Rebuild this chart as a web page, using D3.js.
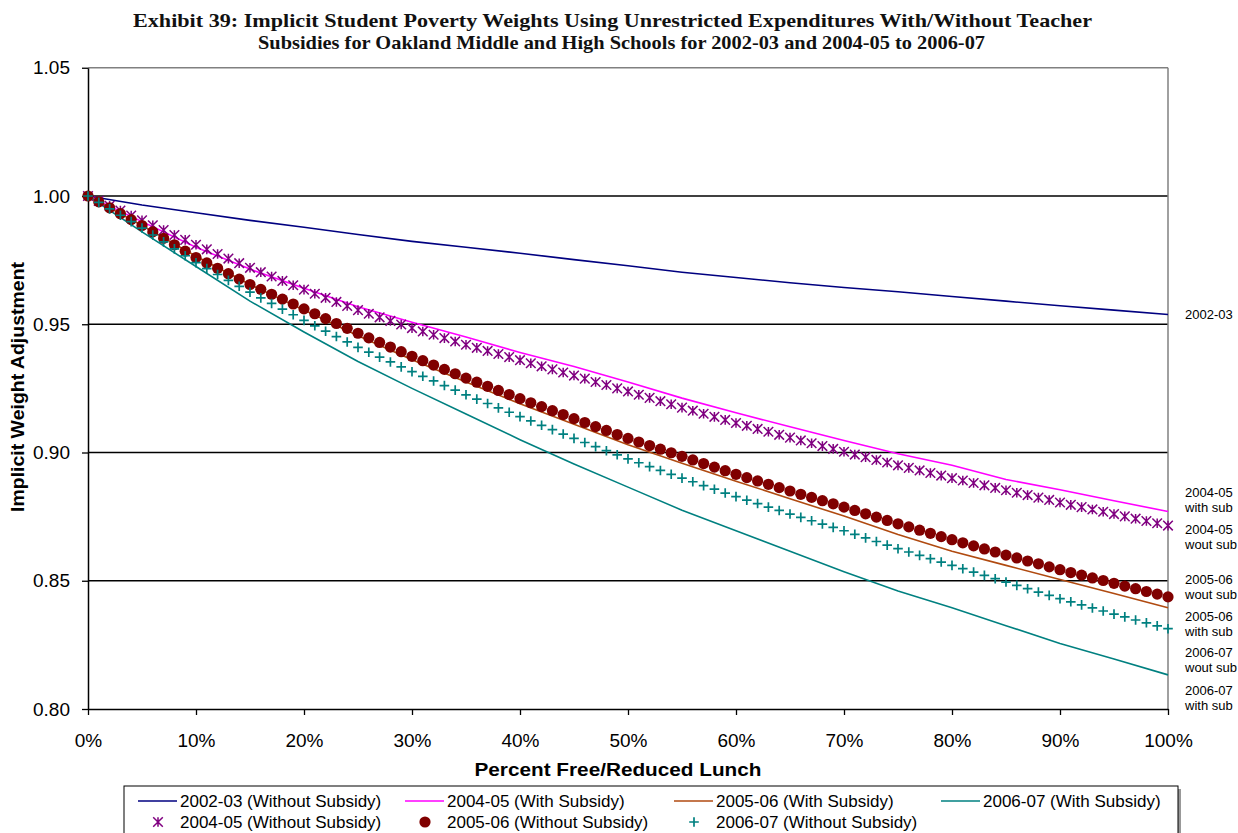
<!DOCTYPE html>
<html><head><meta charset="utf-8">
<script src="https://cdn.jsdelivr.net/npm/d3@7/dist/d3.min.js"></script>
<style>
body{margin:0;background:#fff;}
svg{display:block;font-family:"Liberation Sans",Arial,sans-serif;}
</style></head>
<body><svg id="c" width="1238" height="833"></svg>
<script>
// ---------- data ----------
const titleLines = [
  "Exhibit 39: Implicit Student Poverty Weights Using Unrestricted Expenditures With/Without Teacher",
  "Subsidies for Oakland Middle and High Schools for 2002-03 and 2004-05 to 2006-07"
];
const yTicks = [0.80, 0.85, 0.90, 0.95, 1.00, 1.05];
const xTicks = [0, 10, 20, 30, 40, 50, 60, 70, 80, 90, 100];
const pctLine = [0,5,10,15,20,25,30,35,40,45,50,55,60,65,70,75,80,85,90,95,100];
const pctMarker = d3.range(0, 101, 1);

const s0203 = [1.0000,0.9965,0.9935,0.9905,0.9878,0.9850,0.9823,0.9800,0.9777,0.9752,0.9728,0.9703,0.9682,0.9662,0.9643,0.9627,0.9608,0.9590,0.9572,0.9555,0.9538];
const s0405w = [1.0000,0.9900,0.9800,0.9715,0.9640,0.9568,0.9508,0.9450,0.9390,0.9335,0.9275,0.9212,0.9155,0.9100,0.9047,0.8995,0.8950,0.8895,0.8855,0.8812,0.8770];
const s0506w = [1.0000,0.9885,0.9765,0.9655,0.9555,0.9455,0.9362,0.9275,0.9190,0.9110,0.9030,0.8958,0.8888,0.8820,0.8752,0.8680,0.8615,0.8560,0.8505,0.8450,0.8395];
const s0607w = [1.0000,0.9860,0.9725,0.9590,0.9470,0.9355,0.9250,0.9150,0.9050,0.8955,0.8865,0.8775,0.8695,0.8615,0.8535,0.8460,0.8395,0.8325,0.8255,0.8195,0.8133];

const s0405wo = [1.0000,0.9981,0.9962,0.9943,0.9924,0.9905,0.9886,0.9867,0.9848,0.9829,0.9810,
 0.9792,0.9774,0.9756,0.9738,0.9720,0.9703,0.9686,0.9669,0.9652,0.9635,
 0.9619,0.9603,0.9587,0.9571,0.9555,0.9541,0.9527,0.9513,0.9499,0.9485,
 0.9472,0.9459,0.9446,0.9433,0.9420,0.9408,0.9396,0.9384,0.9372,0.9360,
 0.9348,0.9336,0.9324,0.9312,0.9300,0.9288,0.9275,0.9263,0.9250,0.9238,
 0.9225,0.9213,0.9200,0.9188,0.9175,0.9163,0.9151,0.9139,0.9127,0.9115,
 0.9104,0.9092,0.9081,0.9069,0.9058,0.9047,0.9036,0.9025,0.9014,0.9003,
 0.8992,0.8982,0.8971,0.8961,0.8950,0.8940,0.8930,0.8920,0.8910,0.8900,
 0.8891,0.8881,0.8872,0.8862,0.8853,0.8843,0.8834,0.8824,0.8815,0.8805,
 0.8796,0.8787,0.8778,0.8769,0.8760,0.8751,0.8742,0.8733,0.8724,0.8715];
const s0506wo = [1.0000,0.9977,0.9954,0.9931,0.9908,0.9885,0.9860,0.9835,0.9810,0.9785,0.9760,
 0.9739,0.9718,0.9697,0.9676,0.9655,0.9636,0.9617,0.9598,0.9579,0.9560,
 0.9541,0.9522,0.9503,0.9484,0.9465,0.9447,0.9429,0.9411,0.9393,0.9375,
 0.9358,0.9341,0.9324,0.9307,0.9290,0.9274,0.9258,0.9242,0.9226,0.9210,
 0.9194,0.9179,0.9163,0.9148,0.9132,0.9117,0.9101,0.9086,0.9070,0.9055,
 0.9041,0.9027,0.9013,0.8999,0.8985,0.8971,0.8957,0.8943,0.8929,0.8915,
 0.8902,0.8889,0.8876,0.8863,0.8850,0.8837,0.8825,0.8812,0.8800,0.8787,
 0.8774,0.8761,0.8748,0.8735,0.8722,0.8710,0.8697,0.8685,0.8672,0.8660,
 0.8648,0.8636,0.8624,0.8612,0.8600,0.8589,0.8577,0.8566,0.8554,0.8543,
 0.8532,0.8522,0.8511,0.8501,0.8490,0.8479,0.8469,0.8458,0.8448,0.8437];
const s0607wo = [1.0000,0.9975,0.9950,0.9925,0.9900,0.9875,0.9848,0.9821,0.9794,0.9767,0.9740,
 0.9717,0.9694,0.9671,0.9648,0.9625,0.9603,0.9581,0.9559,0.9537,0.9515,
 0.9494,0.9473,0.9452,0.9431,0.9410,0.9391,0.9372,0.9353,0.9334,0.9315,
 0.9297,0.9279,0.9261,0.9243,0.9225,0.9208,0.9191,0.9174,0.9157,0.9140,
 0.9123,0.9106,0.9089,0.9072,0.9055,0.9039,0.9023,0.9007,0.8991,0.8975,
 0.8960,0.8945,0.8930,0.8915,0.8900,0.8886,0.8871,0.8857,0.8842,0.8828,
 0.8814,0.8801,0.8787,0.8774,0.8760,0.8747,0.8734,0.8721,0.8708,0.8695,
 0.8681,0.8667,0.8653,0.8639,0.8625,0.8612,0.8599,0.8586,0.8573,0.8560,
 0.8547,0.8534,0.8521,0.8508,0.8495,0.8482,0.8469,0.8456,0.8443,0.8430,
 0.8418,0.8406,0.8394,0.8382,0.8370,0.8359,0.8347,0.8336,0.8324,0.8313];

const lineSeries = [
  {name:"2002-03 (Without Subsidy)", values:s0203, color:"#000080"},
  {name:"2004-05 (With Subsidy)", values:s0405w, color:"#FF00FF"},
  {name:"2005-06 (With Subsidy)", values:s0506w, color:"#B04A10"},
  {name:"2006-07 (With Subsidy)", values:s0607w, color:"#008080"}
];
const markerSeries = [
  {name:"2004-05 (Without Subsidy)", values:s0405wo, color:"#800080", shape:"star"},
  {name:"2005-06 (Without Subsidy)", values:s0506wo, color:"#800000", shape:"circle"},
  {name:"2006-07 (Without Subsidy)", values:s0607wo, color:"#008080", shape:"plus"}
];
const rightLabels = [
  {lines:["2002-03"], y:319},
  {lines:["2004-05","with sub"], y:497},
  {lines:["2004-05","wout sub"], y:534},
  {lines:["2005-06","wout sub"], y:584},
  {lines:["2005-06","with sub"], y:621},
  {lines:["2006-07","wout sub"], y:657},
  {lines:["2006-07","with sub"], y:695}
];

// ---------- layout ----------
const svg = d3.select("#c");
const L = 88, R = 1168, T = 67.75, B = 709;
const x = d3.scaleLinear().domain([0,100]).range([L,R]);
const y = d3.scaleLinear().domain([0.80,1.05]).range([B,T]);

// title
const titleW = [959, 727];
svg.append("g").selectAll("text").data(titleLines).join("text")
  .attr("x", (d,i)=>i===0?612.5:621.5).attr("y",(d,i)=>27+i*22)
  .attr("text-anchor","middle")
  .attr("font-family","'Liberation Serif','Times New Roman',serif")
  .attr("font-weight","bold").attr("font-size",19)
  .attr("textLength",(d,i)=>titleW[i]).attr("lengthAdjust","spacingAndGlyphs")
  .attr("fill","#111").text(d=>d);

// gridlines
svg.append("g").selectAll("line").data([0.85,0.90,0.95,1.00]).join("line")
  .attr("x1",L).attr("x2",R).attr("y1",d=>y(d)).attr("y2",d=>y(d))
  .attr("stroke","#000").attr("stroke-width",1.3);
// top & right border
svg.append("line").attr("x1",L).attr("x2",R).attr("y1",y(1.05)).attr("y2",y(1.05)).attr("stroke","#808080").attr("stroke-width",1.5);
svg.append("line").attr("x1",R).attr("x2",R).attr("y1",y(1.05)).attr("y2",B).attr("stroke","#808080").attr("stroke-width",1.5);

// axes
const yAxis = svg.append("g").attr("transform",`translate(${L},0)`)
  .call(d3.axisLeft(y).tickValues(yTicks).tickFormat(d3.format(".2f")).tickSize(6).tickSizeOuter(0).tickPadding(12));
const xAxis = svg.append("g").attr("transform",`translate(0,${B})`)
  .call(d3.axisBottom(x).tickValues(xTicks).tickFormat(d=>d+"%").tickSize(6).tickSizeOuter(0).tickPadding(19));
[yAxis,xAxis].forEach(g=>{
  g.select(".domain").attr("stroke","#000").attr("stroke-width",1.5);
  g.selectAll(".tick line").attr("stroke","#000").attr("stroke-width",1.3);
  g.selectAll(".tick text").attr("font-size",19).attr("fill","#000")
   .attr("font-family","'Liberation Sans',Arial,sans-serif");
});

// axis titles
svg.append("text").attr("x",618).attr("y",776).attr("text-anchor","middle")
  .attr("font-weight","bold").attr("font-size",19).attr("textLength",287).attr("lengthAdjust","spacingAndGlyphs")
  .text("Percent Free/Reduced Lunch");
svg.append("text").attr("transform",`translate(24,387) rotate(-90)`).attr("text-anchor","middle")
  .attr("font-weight","bold").attr("font-size",18.5).attr("textLength",250).attr("lengthAdjust","spacingAndGlyphs")
  .text("Implicit Weight Adjustment");

// lines
const lineGen = d3.line().x(d=>x(d[0])).y(d=>y(d[1]));
const gLines = svg.append("g");
lineSeries.forEach(s=>{
  gLines.append("path").datum(pctLine.map((p,i)=>[p,s.values[i]]))
    .attr("d",lineGen).attr("fill","none").attr("stroke",s.color).attr("stroke-width",1.6);
});

// markers
function drawMarker(g, shape, color, cx, cy, k){
  k = k||1;
  if(shape==="circle"){
    g.append("circle").attr("cx",cx).attr("cy",cy).attr("r",5.6*k).attr("fill",color);
  } else if(shape==="plus"){
    const h=4.8*k;
    g.append("path").attr("d",`M${cx-h},${cy}H${cx+h}M${cx},${cy-h}V${cy+h}`)
      .attr("stroke",color).attr("stroke-width",1.7).attr("fill","none");
  } else {
    const h=4.8*k;
    g.append("path").attr("d",`M${cx-h},${cy-h}L${cx+h},${cy+h}M${cx+h},${cy-h}L${cx-h},${cy+h}M${cx},${cy-h}V${cy+h}`)
      .attr("stroke",color).attr("stroke-width",1.5).attr("fill","none");
  }
}
markerSeries.forEach(s=>{
  const g = svg.append("g");
  pctMarker.forEach((p,i)=>drawMarker(g,s.shape,s.color,x(p),y(s.values[i])));
});

// right labels
const gR = svg.append("g").attr("font-size",13).attr("fill","#000");
rightLabels.forEach(l=>{
  l.lines.forEach((t,i)=>{
    gR.append("text").attr("x",1185).attr("y",l.y+i*14.5).text(t);
  });
});

// legend
const leg = svg.append("g");
leg.append("rect").attr("x",127).attr("y",789).attr("width",1054).attr("height",60).attr("fill","#999");
leg.append("rect").attr("x",124).attr("y",786).attr("width",1054).attr("height",60)
  .attr("fill","#fff").attr("stroke","#000").attr("stroke-width",1);
const ltext = [180, 447, 716, 983];
lineSeries.forEach((s,i)=>{
  const tx = ltext[i], ly = 801;
  leg.append("line").attr("x1",tx-42).attr("x2",tx-3).attr("y1",ly).attr("y2",ly)
    .attr("stroke",s.color).attr("stroke-width",1.6);
  leg.append("text").attr("x",tx).attr("y",ly+6).attr("font-size",17).text(s.name);
});
const mcols = [[158,180],[425,447],[694,716]];
markerSeries.forEach((s,i)=>{
  const ly = 822;
  drawMarker(leg, s.shape, s.color, mcols[i][0], ly, 1);
  leg.append("text").attr("x",mcols[i][1]).attr("y",ly+6).attr("font-size",17).text(s.name);
});
</script></body></html>
